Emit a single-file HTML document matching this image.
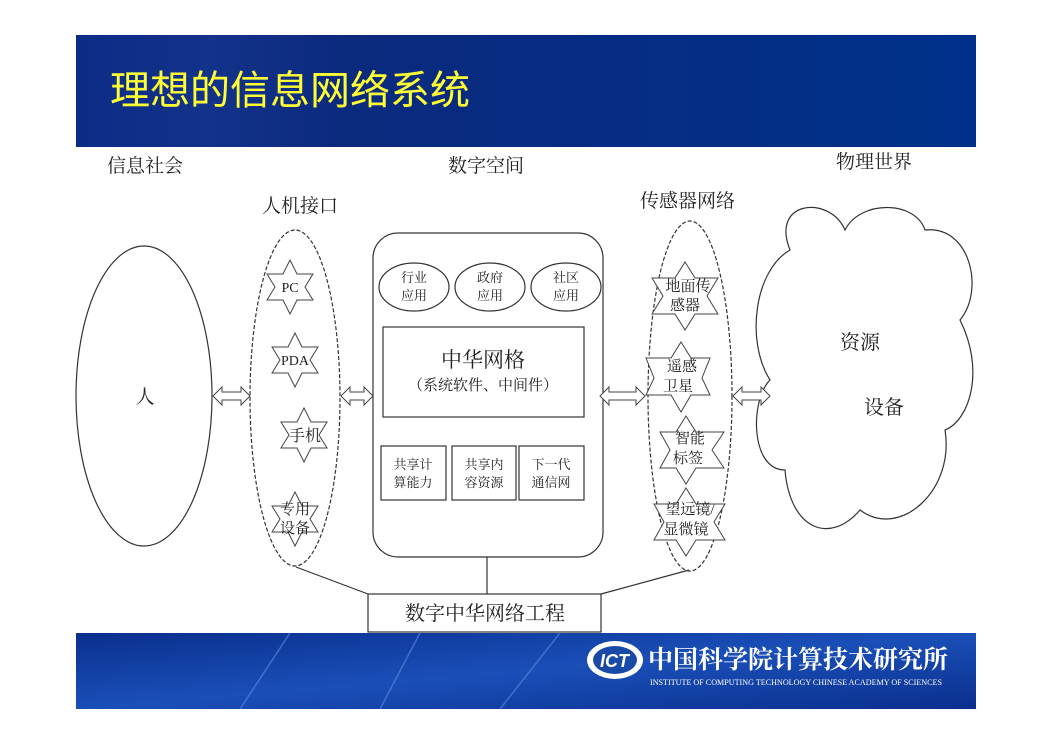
<!DOCTYPE html>
<html><head><meta charset="utf-8"><style>
html,body{margin:0;padding:0;background:#fff;}
svg{display:block;}
text{font-family:"Liberation Serif","Noto Serif CJK SC","Noto Sans CJK SC",serif;fill:#222;}
</style></head><body>
<svg width="1052" height="744" viewBox="0 0 1052 744" xmlns="http://www.w3.org/2000/svg">
<defs>
<linearGradient id="hg" x1="0" x2="1" y1="0" y2="0">
<stop offset="0" stop-color="#0b2c86"/><stop offset="0.15" stop-color="#13328a"/><stop offset="0.3" stop-color="#0a2a7e"/><stop offset="1" stop-color="#00318a"/>
</linearGradient>
<linearGradient id="fg" x1="0" x2="1" y1="0" y2="1">
<stop offset="0" stop-color="#0a2f8e"/><stop offset="0.5" stop-color="#1a4fb8"/><stop offset="1" stop-color="#0a2f8e"/>
</linearGradient>
</defs>
<rect width="1052" height="744" fill="#fff"/>
<rect x="76" y="35" width="900" height="112" fill="url(#hg)"/>
<text x="110" y="104" font-size="40" style="font-family:'Liberation Sans','Noto Sans CJK SC',sans-serif;fill:#ffff33">理想的信息网络系统</text>

<rect x="76" y="633" width="900" height="76" fill="url(#fg)"/>
<g stroke="#5d8ee0" stroke-width="1.5" opacity="0.6"><line x1="240" y1="709" x2="290" y2="633"/><line x1="380" y1="709" x2="420" y2="633"/><line x1="500" y1="709" x2="560" y2="633"/></g>
<ellipse cx="615" cy="660" rx="28" ry="19" fill="#fff"/>
<ellipse cx="615" cy="660" rx="22" ry="14" fill="#1a4aa8"/>
<text x="600" y="667" font-size="18" font-style="italic" font-weight="bold" style="fill:#fff;font-family:'Liberation Sans',sans-serif">ICT</text>
<text x="648" y="668" font-size="25" font-weight="bold" style="fill:#fff;font-family:'Noto Serif CJK SC',serif">中国科学院计算技术研究所</text>
<text x="650" y="685" font-size="8.5" style="fill:#fff" textLength="292" lengthAdjust="spacingAndGlyphs">INSTITUTE OF COMPUTING TECHNOLOGY CHINESE ACADEMY OF SCIENCES</text>

<g font-size="19">
<text x="107" y="172">信息社会</text>
<text x="448" y="172">数字空间</text>
<text x="836" y="168">物理世界</text>
<text x="262" y="212">人机接口</text>
<text x="640" y="207">传感器网络</text>
</g>

<g fill="none" stroke="#333" stroke-width="1.2">
<ellipse cx="144" cy="396" rx="68" ry="150"/>
<ellipse cx="295" cy="398" rx="45" ry="168" stroke-dasharray="4,2"/>
<ellipse cx="690" cy="396" rx="42" ry="175" stroke-dasharray="4,2"/>
<rect x="373" y="233" width="230" height="324" rx="25"/>
<ellipse cx="414" cy="287" rx="35" ry="24"/>
<ellipse cx="490" cy="287" rx="35" ry="24"/>
<ellipse cx="566" cy="287" rx="35" ry="24"/>
<rect x="383" y="327" width="201" height="90"/>
<rect x="381" y="446" width="65" height="54"/>
<rect x="452" y="446" width="64" height="54"/>
<rect x="519" y="446" width="65" height="54"/>
<rect x="368" y="594" width="233" height="38"/>
<line x1="487" y1="557" x2="487" y2="594"/>
<line x1="296" y1="567" x2="368" y2="594"/>
<line x1="689" y1="570" x2="601" y2="594"/>
<path d="M790,250 C770,200 830,195 845,230 C860,200 915,200 925,230 C970,225 985,290 960,320 C985,370 970,420 945,430 C955,490 900,540 860,510 C830,545 790,530 785,470 C750,470 750,400 770,380 C745,340 755,270 790,250 Z"/>
</g>

<g fill="#fff" stroke="#444" stroke-width="1">
<polygon points="213,396 222,387 222,392 241,392 241,387 250,396 241,405 241,400 222,400 222,405"/>
<polygon points="341,396 350,387 350,392 364,392 364,387 373,396 364,405 364,400 350,400 350,405"/>
<polygon points="600,396 609,387 609,392 636,392 636,387 645,396 636,405 636,400 609,400 609,405"/>
<polygon points="733,396 742,387 742,392 761,392 761,387 770,396 761,405 761,400 742,400 742,405"/>
</g>

<g fill="#fff" stroke="#444" stroke-width="1">
<polygon points="290,260 297,274 313,274 305,287 313,300 297,300 290,314 283,300 267,300 275,287 267,274 283,274"/>
<polygon points="295,333 302,347 318,347 310,360 318,373 302,373 295,387 288,373 272,373 280,360 272,347 288,347"/>
<polygon points="304,408 311,422 327,422 319,435 327,448 311,448 304,462 297,448 281,448 289,435 281,422 297,422"/>
<polygon points="295,492 302,506 318,506 310,519 318,532 302,532 295,546 288,532 272,532 280,519 272,506 288,506"/>
<polygon points="685,262 695,278 718,278 707,296 718,314 695,314 685,330 675,314 652,314 663,296 652,278 675,278"/>
<polygon points="681,342 691,358 710,358 702,378 710,395 691,395 681,412 671,395 646,395 654,378 646,358 671,358"/>
<polygon points="686,416 696,432 724,432 712,450 724,468 696,468 686,484 676,468 660,468 670,450 660,432 676,432"/>
<polygon points="686,488 696,504 725,504 714,522 725,540 696,540 686,556 676,540 654,540 664,522 654,504 676,504"/>
</g>

<g font-size="14" text-anchor="middle">
<text x="290" y="292">PC</text>
<text x="295" y="365">PDA</text>
<text x="305" y="441" font-size="16">手机</text>
<text x="295" y="514" font-size="15">专用</text>
<text x="295" y="533" font-size="15">设备</text>
<text x="688" y="291" font-size="15">地面传</text>
<text x="685" y="310" font-size="15">感器</text>
<text x="682" y="371" font-size="15">遥感</text>
<text x="678" y="391" font-size="15">卫星</text>
<text x="690" y="443" font-size="15">智能</text>
<text x="688" y="463" font-size="15">标签</text>
<text x="690" y="514" font-size="15">望远镜/</text>
<text x="686" y="534" font-size="15">显微镜</text>
<text x="414" y="282" font-size="13">行业</text>
<text x="414" y="300" font-size="13">应用</text>
<text x="490" y="282" font-size="13">政府</text>
<text x="490" y="300" font-size="13">应用</text>
<text x="566" y="282" font-size="13">社区</text>
<text x="566" y="300" font-size="13">应用</text>
<text x="483" y="367" font-size="21">中华网格</text>
<text x="483" y="390" font-size="15">（系统软件、中间件）</text>
<text x="413" y="469" font-size="13">共享计</text>
<text x="413" y="487" font-size="13">算能力</text>
<text x="484" y="469" font-size="13">共享内</text>
<text x="484" y="487" font-size="13">容资源</text>
<text x="551" y="469" font-size="13">下一代</text>
<text x="551" y="487" font-size="13">通信网</text>
<text x="145" y="403" font-size="19">人</text>
<text x="860" y="349" font-size="20">资源</text>
<text x="884" y="414" font-size="20">设备</text>
<text x="485" y="620" font-size="20">数字中华网络工程</text>
</g>
</svg>
</body></html>
